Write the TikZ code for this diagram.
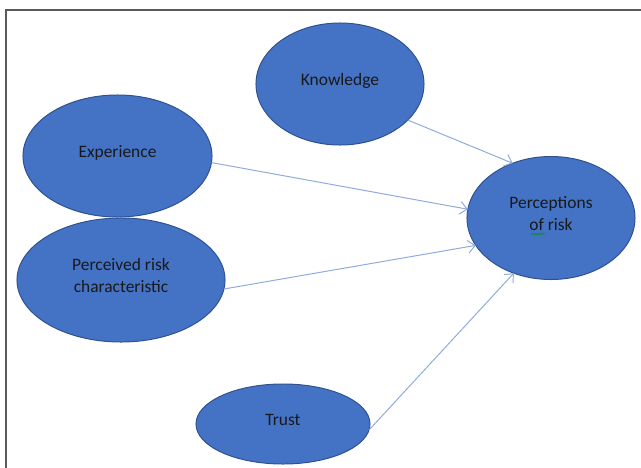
\documentclass[tikz,border=0pt]{standalone}
\usepackage{fontspec}
\setmainfont{Carlito}
\usetikzlibrary{shapes.geometric,arrows.meta,decorations.pathmorphing}

\definecolor{bubble}{HTML}{4472C4}
\definecolor{bubbleline}{HTML}{2F528F}
\definecolor{linkblue}{HTML}{8FAADC}
\definecolor{frame}{HTML}{5A5A5A}

\tikzset{
  factor/.style={shape=ellipse, fill=bubble, draw=bubbleline, line width=0.7pt,
    inner sep=0pt, outer sep=0pt, align=center, text=black!90, text depth=6.5pt,
    font=\fontsize{12.4}{15}\selectfont},
  link/.style={color=linkblue, line width=0.7pt, -{Straight Barb[length=5pt,width=9pt]}}
}

\begin{document}
\begin{tikzpicture}[x=0.025cm, y=-0.025cm]
            \useasboundingbox (0,0) rectangle (641,468);
            \draw[frame, line width=1.3pt] (6,468) -- (6,10) -- (641,10);

            \node[factor, minimum width=4.2cm, minimum height=3.05cm] (K) at (340,84) {Knowledge};
            \node[factor, minimum width=4.725cm, minimum height=3.05cm] (E) at (117.5,156) {Experience};
            \node[factor, minimum width=5.2cm, minimum height=3.1cm] (C) at (121,280) {Perceived risk\\characteristic};
            \node[factor, minimum width=4.35cm, minimum height=2.0cm] (T) at (283,424) {Trust};
            \node[factor, minimum width=4.2cm, minimum height=3.075cm] (P) at (551,218) {Perceptions\\of risk};

            % spell-check mark under "of"
            \draw[green!60!black, line width=0.5pt, decorate,
                  decoration={snake, amplitude=0.6pt, segment length=2.5pt}] (531,234) -- (545,234);

            \path[link] (K.-28) edge (P.125);
            \path[link] (E.-4) edge (P.174);
            \path[link] (C.-5.5) edge (P.-160.5);
            \path[link] (T.-4) edge (P.-124);
        \end{tikzpicture}
\end{document}
